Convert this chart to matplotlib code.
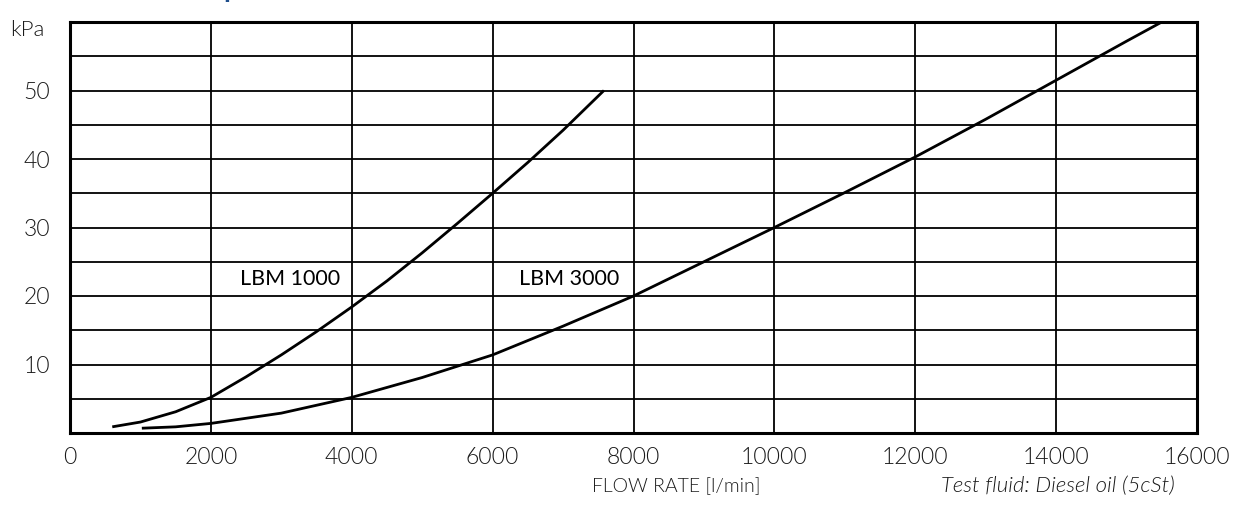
import numpy as np
import matplotlib
matplotlib.use('Agg')
import matplotlib.pyplot as plt

plt.rcParams['font.family'] = ['Lato', 'DejaVu Sans']

# flow rate [l/min] vs pressure drop [kPa]
lbm1000_flow = [600, 1000, 1500, 2000, 2500, 3000, 3500, 4000, 4500, 5000, 5500, 6000, 6500, 7000, 7580]
lbm1000_dp = [0.9, 1.6, 3.1, 5.2, 8.2, 11.4, 14.8, 18.4, 22.2, 26.3, 30.6, 35.0, 39.5, 44.2, 50.0]

lbm3000_flow = [1020, 1500, 2000, 3000, 4000, 5000, 6000, 7000, 8000, 9000, 10000,
                11000, 12000, 13000, 14000, 15000, 15500]
lbm3000_dp = [0.7, 0.9, 1.4, 2.9, 5.2, 8.1, 11.4, 15.6, 20, 25, 30, 35.1, 40.3, 45.8, 51.5, 57.2, 60]

x_ticks = list(range(0, 16001, 2000))
y_grid = list(range(0, 61, 5))
y_labels = ['10', '20', '30', '40', '50']

fig = plt.figure(figsize=(12.42, 5.22), dpi=100)
ax = fig.add_axes([70 / 1242, 1 - 433 / 522, 1127 / 1242, 411 / 522])

ax.plot(lbm1000_flow, lbm1000_dp, color='black', lw=2.0, solid_capstyle='butt')
ax.plot(lbm3000_flow, lbm3000_dp, color='black', lw=2.0, solid_capstyle='butt')

ax.set_xlim(0, 16000)
ax.set_ylim(0, 60)
ax.set_xticks(x_ticks)
ax.set_xticklabels([str(t) for t in x_ticks])
ax.set_yticks(y_grid)
ax.set_yticklabels([str(v) if str(v) in y_labels else '' for v in y_grid])
ax.tick_params(length=0, labelsize=16.5, colors='#1a1a1a')
ax.tick_params(axis='x', pad=10)
ax.tick_params(axis='y', pad=14)
for lab in ax.get_xticklabels() + ax.get_yticklabels():
    lab.set_fontweight(300)

ax.grid(True, color='black', lw=1.3)
ax.set_axisbelow(True)
for s in ax.spines.values():
    s.set_linewidth(2.2)
    s.set_color('black')

ax.text(3830, 22.5, 'LBM 1000', ha='right', va='center', fontsize=15.5, color='black')
ax.text(6370, 22.5, 'LBM 3000', ha='left', va='center', fontsize=15.5, color='black')

fig.text(10 / 1242, 1 - 30 / 522, 'kPa', ha='left', va='center', fontsize=16,
         fontweight=300, color='#1a1a1a')
fig.text(676 / 1242, 1 - 486 / 522, 'FLOW RATE [l/min]', ha='center', va='center',
         fontsize=14, fontweight=300, color='#1a1a1a')
fig.text(1175 / 1242, 1 - 486 / 522, 'Test fluid: Diesel oil (5cSt)', ha='right', va='center',
         fontsize=16, fontstyle='italic', fontweight=300, color='#1a1a1a')
# clipped title descender at the very top
fig.text(231 / 1242, 1 + 3 / 522, 'p', ha='center', va='baseline', fontsize=20,
         fontweight='bold', color='#1f4e8c')

fig.savefig('out.png', dpi=100)
